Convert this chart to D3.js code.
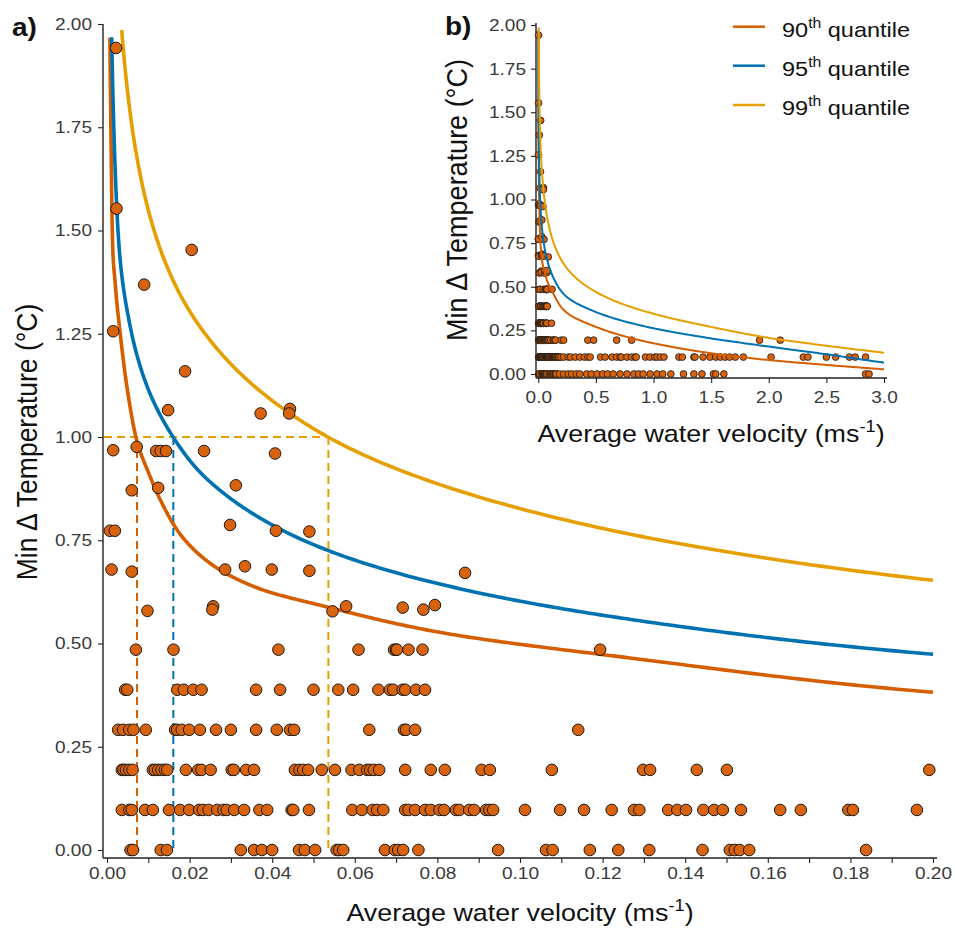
<!DOCTYPE html>
<html><head><meta charset="utf-8">
<script src="https://cdn.jsdelivr.net/npm/d3@7"></script>
<style>body{margin:0;background:#fff}</style>
</head><body>
<svg id="chart" width="955" height="930" xmlns="http://www.w3.org/2000/svg"></svg>
<script>
// ---------------- DATA ----------------
const yTicks = [0, 0.25, 0.5, 0.75, 1, 1.25, 1.5, 1.75, 2];
const yTickLabels = ["0.00","0.25","0.50","0.75","1.00","1.25","1.50","1.75","2.00"];
const xTicksA = [0,0.01,0.02,0.03,0.04,0.05,0.06,0.07,0.08,0.09,0.10,0.11,0.12,0.13,0.14,0.15,0.16,0.17,0.18,0.19,0.20];
const xTickLabelsA = ["0.00","","0.02","","0.04","","0.06","","0.08","","0.10","","0.12","","0.14","","0.16","","0.18","","0.20"];
const xTicksB = [0,0.5,1,1.5,2,2.5,3];
const xTickLabelsB = ["0.0","0.5","1.0","1.5","2.0","2.5","3.0"];
const quantileLabels = ["90","95","99"];

// observed points, grouped by temperature level (rows)
const rowTemps = [0, 0.097, 0.194, 0.291, 0.388, 0.485];
const velRow0 = [0.0057,0.0063,0.0130,0.0145,0.0324,0.0356,0.0375,0.0400,0.0465,0.0479,0.0504,0.0556,0.0562,0.0572,0.0673,0.0697,0.0705,0.0717,0.0754,0.0947,0.1063,0.1079,0.1169,0.1238,0.1313,0.1442,0.1508,0.1520,0.1532,0.1555,0.1838];
const velRow1 = [0.0036,0.0054,0.0060,0.0092,0.0111,0.0150,0.0177,0.0199,0.0223,0.0232,0.0246,0.0267,0.0282,0.0290,0.0308,0.0332,0.0369,0.0388,0.0447,0.0451,0.0489,0.0594,0.0617,0.0643,0.0654,0.0669,0.0722,0.0730,0.0746,0.0770,0.0784,0.0805,0.0816,0.0845,0.0853,0.0877,0.0889,0.0918,0.0926,0.0935,0.1012,0.1097,0.1155,0.1222,0.1276,0.1289,0.1359,0.1381,0.1402,0.1444,0.1470,0.1491,0.1535,0.1630,0.1680,0.1795,0.1806,0.1961];
const velRow2 = [0.0036,0.0040,0.0046,0.0054,0.0062,0.0111,0.0116,0.0124,0.0132,0.0140,0.0146,0.0191,0.0221,0.0229,0.0251,0.0302,0.0307,0.0337,0.0356,0.0455,0.0466,0.0475,0.0487,0.0520,0.0552,0.0592,0.0611,0.0630,0.0637,0.0646,0.0659,0.0722,0.0784,0.0818,0.0907,0.0927,0.1077,0.1298,0.1315,0.1428,0.1501,0.1991];
const velRow3 = [0.0027,0.0039,0.0054,0.0064,0.0094,0.0165,0.0170,0.0181,0.0199,0.0225,0.0264,0.0300,0.0361,0.0411,0.0443,0.0453,0.0635,0.0719,0.0724,0.0746,0.1141];
const velRow4 = [0.0044,0.0049,0.0170,0.0186,0.0209,0.0229,0.0361,0.0419,0.0500,0.0560,0.0596,0.0657,0.0685,0.0693,0.0716,0.0722,0.0748,0.0770];
const velRow5 = [0.0070,0.0161,0.0415,0.0609,0.0695,0.0700,0.0702,0.0730,0.0764,0.1194];
const upperVel  = [0.0022,0.0023,0.0090,0.0205,0.0015,0.0189,0.0148,0.0372,0.0443,0.0441,0.0015,0.0072,0.0119,0.0130,0.0143,0.0235,0.0407,0.0060,0.0124,0.0312,0.0007,0.0019,0.0298,0.0409,0.0490,0.0011,0.0060,0.0286,0.0334,0.0399,0.0490,0.0867,0.0098,0.0257,0.0255,0.0546,0.0579,0.0716,0.0766,0.0794];
const upperTemp = [1.942,1.553,1.369,1.453,1.256,1.159,1.065,1.057,1.068,1.057,0.968,0.976,0.966,0.966,0.966,0.966,0.960,0.871,0.877,0.883,0.773,0.773,0.787,0.773,0.771,0.679,0.674,0.679,0.687,0.679,0.676,0.671,0.579,0.590,0.582,0.578,0.590,0.587,0.582,0.593];
// points beyond 0.2 m/s, only visible in the inset (b)
const insetVelRow0 = [0.22,0.26,0.29,0.33,0.36,0.42,0.46,0.51,0.56,0.60,0.65,0.71,0.77,0.83,0.87,0.91,0.97,1.03,1.08,1.15,1.26,1.35,1.42,1.52,1.54,1.61,2.84,2.87];
const insetVelRow1 = [0.22,0.26,0.28,0.32,0.36,0.40,0.43,0.45,0.54,0.58,0.64,0.68,0.71,0.72,0.77,0.81,0.84,0.85,0.93,0.97,1.01,1.03,1.06,1.09,1.22,1.25,1.35,1.36,1.43,1.49,1.54,1.58,1.62,1.66,1.71,1.78,2.02,2.30,2.34,2.50,2.58,2.70,2.75,2.84];
const insetVelRow2 = [0.22,0.43,0.48,0.68,0.81,1.92,2.10];

// fitted quantile curves
const q90Vel  = [0.0007,0.0010,0.0013,0.0020,0.0032,0.0050,0.0070,0.0104,0.0128,0.0177,0.0242,0.0363,0.0535,0.0806,0.129,0.2,0.5,1.0,1.5,2.0,2.5,3.0];
const q90Temp = [1.967,1.70,1.49,1.37,1.25,1.11,1.0,0.905,0.85,0.765,0.70,0.635,0.588,0.527,0.462,0.382,0.27,0.176,0.119,0.080,0.052,0.027];
const q95Vel  = [0.00114,0.0018,0.00266,0.00557,0.00872,0.0160,0.0225,0.0281,0.0523,0.0927,0.129,0.2,0.5,1.0,1.5,2.0,2.5,3.0];
const q95Temp = [1.968,1.70,1.50,1.27,1.15,1.0,0.915,0.865,0.73,0.617,0.555,0.474,0.355,0.262,0.204,0.157,0.113,0.065];
const q99Vel  = [0.00356,0.0063,0.0111,0.0177,0.0257,0.0443,0.0535,0.0927,0.129,0.2,0.5,1.0,1.5,2.0,2.5,3.0];
const q99Temp = [1.985,1.735,1.51,1.345,1.225,1.057,1.0,0.847,0.760,0.653,0.47,0.345,0.27,0.207,0.162,0.122];
// velocity at which each quantile reaches a 1 °C minimum difference
const thresholdVel = [0.00726, 0.01606, 0.0536];
const thresholdTemp = 1.0;

// ---------------- STYLE ----------------
const SX = 1.12;
const FF = "'Liberation Sans', Arial, Helvetica, sans-serif";
const TICK_COL = "#3a3a3a", TITLE_COL = "#111", AXIS_COL = "#222";
const COLORS = ["#D55E00", "#0072B2", "#E69F00"];
const POINT_FILL = "#D9620C";

const svg = d3.select("#chart");

// assemble point records
const pts = [];
[velRow0, velRow1, velRow2, velRow3, velRow4, velRow5].forEach((row, i) =>
  row.forEach(v => pts.push({v, t: rowTemps[i]})));
upperVel.forEach((v, i) => pts.push({v, t: upperTemp[i]}));
const insetPts = pts.slice();
[insetVelRow0, insetVelRow1, insetVelRow2].forEach((row, i) =>
  row.forEach(v => insetPts.push({v, t: rowTemps[i]})));
const curveKnots = [
  q90Vel.map((v, i) => ({v, t: q90Temp[i]})),
  q95Vel.map((v, i) => ({v, t: q95Temp[i]})),
  q99Vel.map((v, i) => ({v, t: q99Temp[i]}))
];

// Smooth each curve with d3's monotone spline in (log velocity, temperature) space.
// A tiny path context collects the spline's bezier segments as a polyline.
function smoothInLog(knots) {
  const out = [];
  const ctx = {
    cx: 0, cy: 0,
    moveTo(x, y) { out.push([x, y]); this.cx = x; this.cy = y; },
    lineTo(x, y) { out.push([x, y]); this.cx = x; this.cy = y; },
    bezierCurveTo(x1, y1, x2, y2, x, y) {
      const x0 = this.cx, y0 = this.cy, N = 30;
      for (let k = 1; k <= N; k++) {
        const s = k / N, a = (1 - s) ** 3, b = 3 * (1 - s) ** 2 * s, c = 3 * (1 - s) * s * s, d = s ** 3;
        out.push([a * x0 + b * x1 + c * x2 + d * x, a * y0 + b * y1 + c * y2 + d * y]);
      }
      this.cx = x; this.cy = y;
    },
    closePath() {}
  };
  d3.line().x(d => Math.log(d.v)).y(d => d.t).curve(d3.curveMonotoneX).context(ctx)(knots);
  return out.map(([u, t]) => ({v: Math.exp(u), t}));
}
const curves = curveKnots.map(smoothInLog);

function addText(parent, x, y, o) {
  let tr = `translate(${x},${y}) scale(${SX},1)`;
  if (o.rotate) tr += ` rotate(${o.rotate})`;
  const t = parent.append("text").attr("transform", tr)
    .attr("font-family", FF).attr("font-size", o.size)
    .attr("fill", o.fill || TITLE_COL).attr("text-anchor", o.anchor || "start");
  if (o.weight) t.attr("font-weight", o.weight);
  return t;
}
function velTitle(t, size) {
  t.append("tspan").text("Average water velocity (ms");
  t.append("tspan").attr("font-size", size * 0.68).attr("dy", -size * 0.42).text("-1");
  t.append("tspan").attr("dy", size * 0.42).text(")");
}
function tempTitle(t) { t.text("Min \u2206 Temperature (\u00B0C)"); }

function styleAxis(g, size) {
  g.select(".domain").remove();
  g.attr("font-family", FF).attr("font-size", size);
  g.selectAll(".tick line").attr("stroke", AXIS_COL).attr("stroke-width", 1.1);
  g.selectAll(".tick text").attr("fill", TICK_COL);
}

// ================= PANEL A =================
const xA = d3.scaleLinear().domain([0, 0.2]).range([107, 933]);
const yA = d3.scaleLinear().domain([0, 2]).range([850, 24]);
const gA = svg.append("g");

gA.append("g").attr("transform", "translate(103,0)")
  .call(d3.axisLeft(yA).tickValues(yTicks).tickFormat((d, i) => yTickLabels[i]).tickSize(5).tickSizeOuter(0))
  .call(g => { styleAxis(g, 17); g.selectAll(".tick text").attr("x", -11 / SX).attr("transform", `scale(${SX},1)`); });
gA.append("g").attr("transform", "translate(0,858)")
  .call(d3.axisBottom(xA).tickValues(xTicksA).tickFormat((d, i) => xTickLabelsA[i]).tickSize(5).tickPadding(4).tickSizeOuter(0))
  .call(g => { styleAxis(g, 17); g.selectAll(".tick text").attr("transform", `scale(${SX},1)`); });
gA.append("line").attr("x1", 103).attr("x2", 103).attr("y1", 24).attr("y2", 858).attr("stroke", AXIS_COL).attr("stroke-width", 1.4);
gA.append("line").attr("x1", 103).attr("x2", 937).attr("y1", 858).attr("y2", 858).attr("stroke", AXIS_COL).attr("stroke-width", 1.4);

// dashed threshold guides
gA.append("line").attr("x1", 104).attr("x2", xA(thresholdVel[2])).attr("y1", yA(thresholdTemp)).attr("y2", yA(thresholdTemp))
  .attr("stroke", COLORS[2]).attr("stroke-width", 2).attr("stroke-dasharray", "8,5");
thresholdVel.forEach((v, i) => {
  gA.append("line").attr("x1", xA(v)).attr("x2", xA(v)).attr("y1", yA(thresholdTemp)).attr("y2", yA(0))
    .attr("stroke", COLORS[i]).attr("stroke-width", 2).attr("stroke-dasharray", "8,5");
});

// curves
const lineA = d3.line().x(d => xA(d.v)).y(d => yA(d.t));
curves.forEach((c, i) => {
  gA.append("path").attr("d", lineA(c.filter(d => d.v <= 0.2 + 1e-9)))
    .attr("fill", "none").attr("stroke", COLORS[i]).attr("stroke-width", 3.6)
    .attr("stroke-linejoin", "round");
});

// points
gA.append("g").selectAll("circle").data(pts).join("circle")
  .attr("cx", d => xA(d.v)).attr("cy", d => yA(d.t)).attr("r", 5.8)
  .attr("fill", POINT_FILL).attr("stroke", "#1a1a1a").attr("stroke-width", 1);

// titles
tempTitle(addText(gA, 37, 442, {size: 26.5, anchor: "middle", rotate: -90}));
velTitle(addText(gA, 520, 921, {size: 24, anchor: "middle"}), 24);
addText(gA, 12, 36, {size: 25, weight: "bold"}).text("a)");

// ================= PANEL B (inset) =================
const xB = d3.scaleLinear().domain([0, 3]).range([538.3, 884]);
const yB = d3.scaleLinear().domain([0, 2]).range([374, 25]);
const gB = svg.append("g");

gB.append("g").attr("transform", "translate(536,0)")
  .call(d3.axisLeft(yB).tickValues(yTicks).tickFormat((d, i) => yTickLabels[i]).tickSize(5).tickSizeOuter(0))
  .call(g => { styleAxis(g, 17); g.selectAll(".tick text").attr("x", -10 / SX).attr("transform", `scale(${SX},1)`); });
gB.append("g").attr("transform", "translate(0,378)")
  .call(d3.axisBottom(xB).tickValues(xTicksB).tickFormat((d, i) => xTickLabelsB[i]).tickSize(5).tickPadding(8).tickSizeOuter(0))
  .call(g => { styleAxis(g, 17); g.selectAll(".tick text").attr("transform", `scale(${SX},1)`); });
gB.append("line").attr("x1", 536).attr("x2", 536).attr("y1", 23).attr("y2", 378).attr("stroke", AXIS_COL).attr("stroke-width", 1.4);
gB.append("line").attr("x1", 536).attr("x2", 887).attr("y1", 378).attr("y2", 378).attr("stroke", AXIS_COL).attr("stroke-width", 1.4);

gB.append("g").selectAll("circle").data(insetPts).join("circle")
  .attr("cx", d => xB(d.v)).attr("cy", d => yB(d.t)).attr("r", 3.4)
  .attr("fill", POINT_FILL).attr("stroke", "#1a1a1a").attr("stroke-width", 0.8);

const lineB = d3.line().x(d => xB(d.v)).y(d => yB(d.t));
curves.forEach((c, i) => {
  gB.append("path").attr("d", lineB(c)).attr("fill", "none").attr("stroke", COLORS[i])
    .attr("stroke-width", 2).attr("stroke-linejoin", "round");
});

tempTitle(addText(gB, 467, 200, {size: 27, anchor: "middle", rotate: -90}));
velTitle(addText(gB, 711, 442, {size: 24, anchor: "middle"}), 24);
addText(gB, 445, 35, {size: 25, weight: "bold"}).text("b)");

// legend
const legY = [26.7, 65.7, 105];
quantileLabels.forEach((q, i) => {
  gB.append("line").attr("x1", 733).attr("x2", 765).attr("y1", legY[i]).attr("y2", legY[i])
    .attr("stroke", COLORS[i]).attr("stroke-width", 2.5);
  const t = addText(gB, 782, legY[i] + 10, {size: 21});
  t.append("tspan").text(q);
  t.append("tspan").attr("font-size", 14).attr("dy", -9).text("th");
  t.append("tspan").attr("dy", 9).text(" quantile");
});
</script>
</body></html>
